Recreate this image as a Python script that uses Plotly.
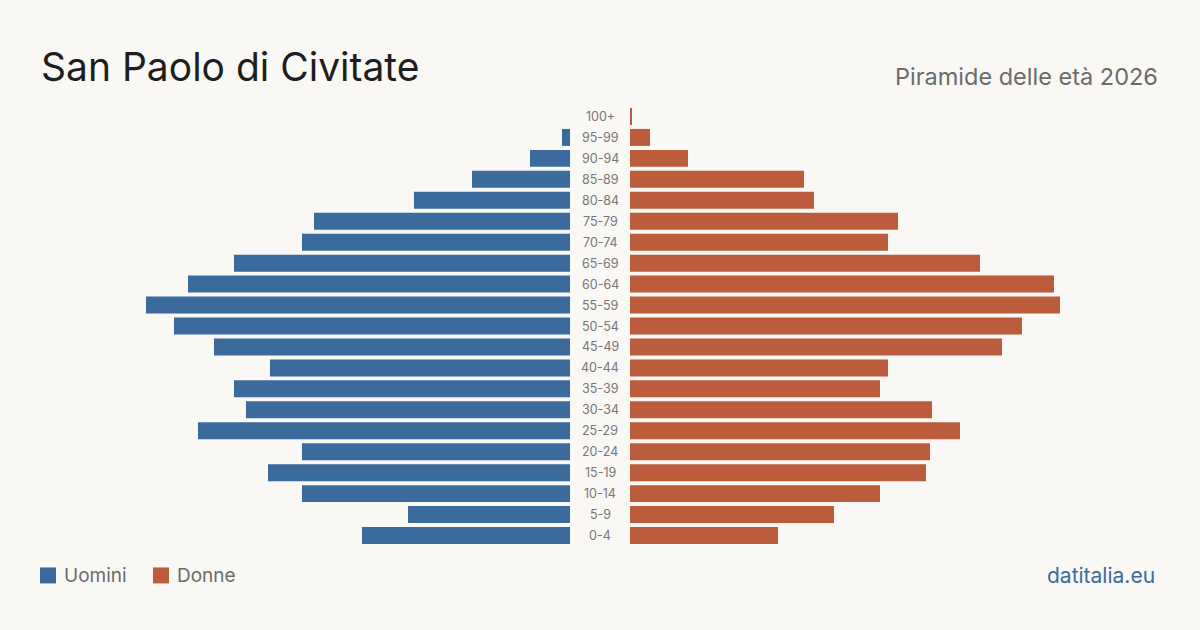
import plotly.graph_objects as go

age_groups = ["0-4", "5-9", "10-14", "15-19", "20-24", "25-29", "30-34", "35-39",
              "40-44", "45-49", "50-54", "55-59", "60-64", "65-69", "70-74", "75-79",
              "80-84", "85-89", "90-94", "95-99", "100+"]
men = [104, 81, 134, 151, 134, 186, 162, 168, 150, 178, 198, 212, 191, 168, 134, 128,
       78, 49, 20, 4, 0]
women = [74, 102, 125, 148, 150, 165, 151, 125, 129, 186, 196, 215, 212, 175, 129, 134,
         92, 87, 29, 10, 1]

BLUE = "#3b6b9c"
ORANGE = "#bb5d3c"
BG = "#f9f8f4"
FONT = "Inter, Roboto, sans-serif"

TOP, BOTTOM = 105.5, 83.5
PLOT_H = 630 - TOP - BOTTOM


def py(px):
    """Convert a pixel row to paper coordinate (relative to plot area)."""
    return (630 - BOTTOM - px) / PLOT_H


fig = go.Figure()
fig.add_trace(go.Bar(y=age_groups, x=men, orientation="h",
                     marker=dict(color=BLUE, line=dict(width=0)),
                     xaxis="x", yaxis="y", showlegend=False, hoverinfo="x+y", name="Uomini"))
fig.add_trace(go.Bar(y=age_groups, x=women, orientation="h",
                     marker=dict(color=ORANGE, line=dict(width=0)),
                     xaxis="x2", yaxis="y", showlegend=False, hoverinfo="x+y", name="Donne"))

for g in age_groups:
    fig.add_annotation(x=0.5, xref="paper", y=g, yref="y", text=g, showarrow=False,
                       font=dict(family=FONT, size=12.5, color="#777777"), xanchor="center")

fig.update_layout(
    width=1200, height=630,
    paper_bgcolor=BG, plot_bgcolor=BG,
    margin=dict(l=0, r=0, t=TOP, b=BOTTOM),
    bargap=0.19,
    xaxis=dict(domain=[0, 570 / 1200], range=[285, 0], visible=False, fixedrange=True),
    xaxis2=dict(domain=[630 / 1200, 1], range=[0, 285], visible=False, fixedrange=True),
    yaxis=dict(categoryorder="array", categoryarray=age_groups, range=[-0.5, 20.5],
               visible=False),
    font=dict(family=FONT),
)

fig.add_annotation(x=39 / 1200, y=py(66), xref="paper", yref="paper",
                   text="San Paolo di Civitate", showarrow=False, xanchor="left",
                   yanchor="middle", font=dict(family=FONT, size=39, color="#1e1e1e"))
fig.add_annotation(x=1160 / 1200, y=py(76), xref="paper", yref="paper",
                   text="Piramide delle età 2026", showarrow=False, xanchor="right",
                   yanchor="middle", font=dict(family=FONT, size=23.5, color="#6b6b6b"))
fig.add_annotation(x=1157 / 1200, y=py(576), xref="paper", yref="paper",
                   text="datitalia.eu", showarrow=False, xanchor="right",
                   yanchor="middle", font=dict(family=FONT, size=21, color=BLUE))

# legend
fig.add_shape(type="rect", xref="paper", yref="paper", x0=40 / 1200, x1=56 / 1200,
              y0=py(584), y1=py(568), fillcolor=BLUE, line_width=0)
fig.add_annotation(x=62 / 1200, y=py(576), xref="paper", yref="paper",
                   text="Uomini", showarrow=False, xanchor="left", yanchor="middle",
                   font=dict(family=FONT, size=19, color="#6b6b6b"))
fig.add_shape(type="rect", xref="paper", yref="paper", x0=153 / 1200, x1=169 / 1200,
              y0=py(584), y1=py(568), fillcolor=ORANGE, line_width=0)
fig.add_annotation(x=175 / 1200, y=py(576), xref="paper", yref="paper",
                   text="Donne", showarrow=False, xanchor="left", yanchor="middle",
                   font=dict(family=FONT, size=19, color="#6b6b6b"))

fig.write_html("out.html")
